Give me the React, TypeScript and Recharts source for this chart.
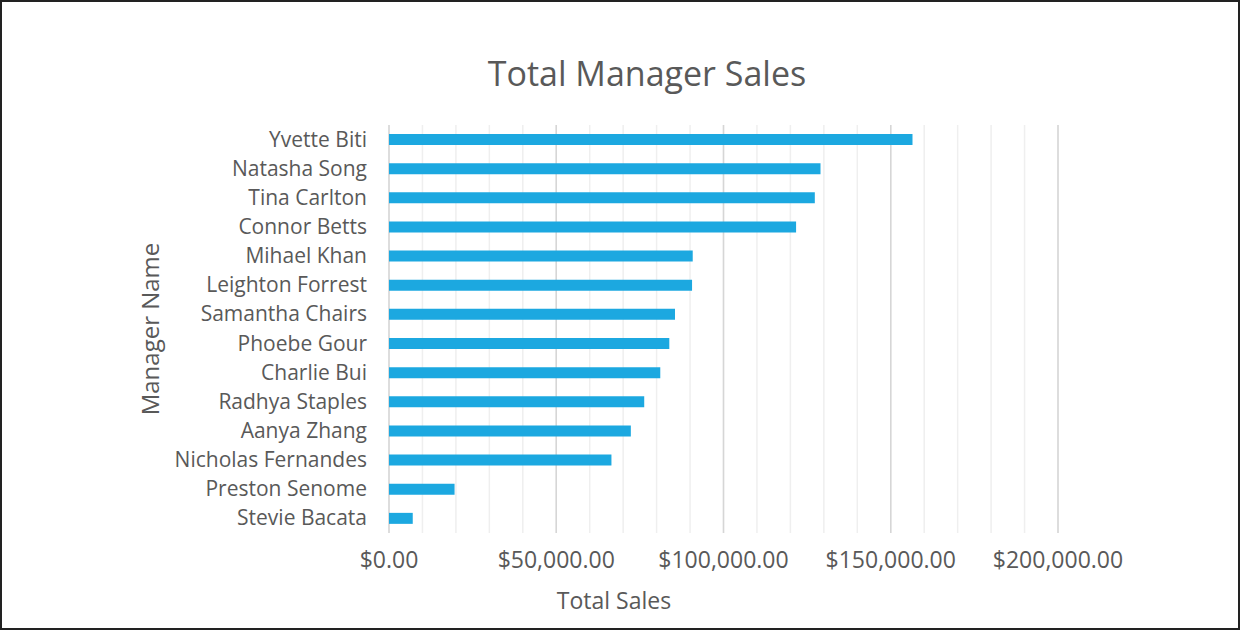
import React from "react";
import { BarChart, Bar, XAxis, YAxis, CartesianGrid } from "recharts";

const managers = [
  "Yvette Biti",
  "Natasha Song",
  "Tina Carlton",
  "Connor Betts",
  "Mihael Khan",
  "Leighton Forrest",
  "Samantha Chairs",
  "Phoebe Gour",
  "Charlie Bui",
  "Radhya Staples",
  "Aanya Zhang",
  "Nicholas Fernandes",
  "Preston Senome",
  "Stevie Bacata",
];
const totalSales = [
  156500, 129000, 127300, 121700, 90800, 90600, 85500, 83800, 81100, 76300,
  72300, 66500, 19600, 7100,
];
const majorTicks = [0, 50000, 100000, 150000, 200000];
const minorTicks = [
  0, 10000, 20000, 30000, 40000, 50000, 60000, 70000, 80000, 90000, 100000,
  110000, 120000, 130000, 140000, 150000, 160000, 170000, 180000, 190000, 200000,
];
const MAX = 200000;

const data = managers.map((name, i) => ({ name, sales: totalSales[i] }));

const FONT = "'Open Sans', sans-serif";
const TEXT = "#595959";

const money = (v: number) =>
  "$" + v.toLocaleString("en-US", { minimumFractionDigits: 2, maximumFractionDigits: 2 });

const XTick = ({ x, y, payload }: any) => (
  <text x={x} y={y} dy={27} textAnchor="middle" fill={TEXT} fontSize={23} fontFamily={FONT}>
    {money(payload.value)}
  </text>
);

const YTick = ({ x, y, payload }: any) => (
  <text x={x - 14} y={y} dy={7} textAnchor="end" fill={TEXT} fontSize={21} fontFamily={FONT}>
    {payload.value}
  </text>
);

// minor gridlines every 10k, placed with the x axis scale
const minorLines = ({ xAxis, offset }: any) =>
  minorTicks.map((v) =>
    xAxis && typeof xAxis.scale === "function"
      ? xAxis.scale(v)
      : offset.left + (v / MAX) * offset.width
  );

export default function App() {
  return (
    <div style={{ position: "absolute", left: 0, top: 0, width: 1240, height: 630, background: "#fff" }}>
      <BarChart
        width={1240}
        height={630}
        data={data}
        layout="vertical"
        margin={{ top: 125, right: 182, bottom: 37, left: 0 }}
        barCategoryGap={9}
      >
        <rect x={1} y={1} width={1238} height={628} fill="none" stroke="#222" strokeWidth={2} />
        <text x={647} y={86} textAnchor="middle" fill={TEXT} fontSize={34} fontFamily={FONT}>
          Total Manager Sales
        </text>
        <text
          x={159}
          y={329}
          textAnchor="middle"
          fill={TEXT}
          fontSize={24}
          fontFamily={FONT}
          transform="rotate(-90 159 329)"
        >
          Manager Name
        </text>
        <text x={614} y={609} textAnchor="middle" fill={TEXT} fontSize={23} fontFamily={FONT}>
          Total Sales
        </text>
        <XAxis
          type="number"
          domain={[0, MAX]}
          ticks={majorTicks}
          axisLine={false}
          tickLine={false}
          tick={<XTick />}
          height={60}
          interval={0}
        />
        <YAxis
          type="category"
          dataKey="name"
          width={389}
          axisLine={false}
          tickLine={false}
          tick={<YTick />}
          interval={0}
        />
        <CartesianGrid
          horizontal={false}
          verticalCoordinatesGenerator={minorLines}
          stroke="#efefef"
          strokeWidth={1.5}
        />
        <CartesianGrid horizontal={false} stroke="#d6d6d6" strokeWidth={1.5} />
        <Bar dataKey="sales" fill="#1CA8E0" barSize={11} isAnimationActive={false} />
      </BarChart>
    </div>
  );
}
